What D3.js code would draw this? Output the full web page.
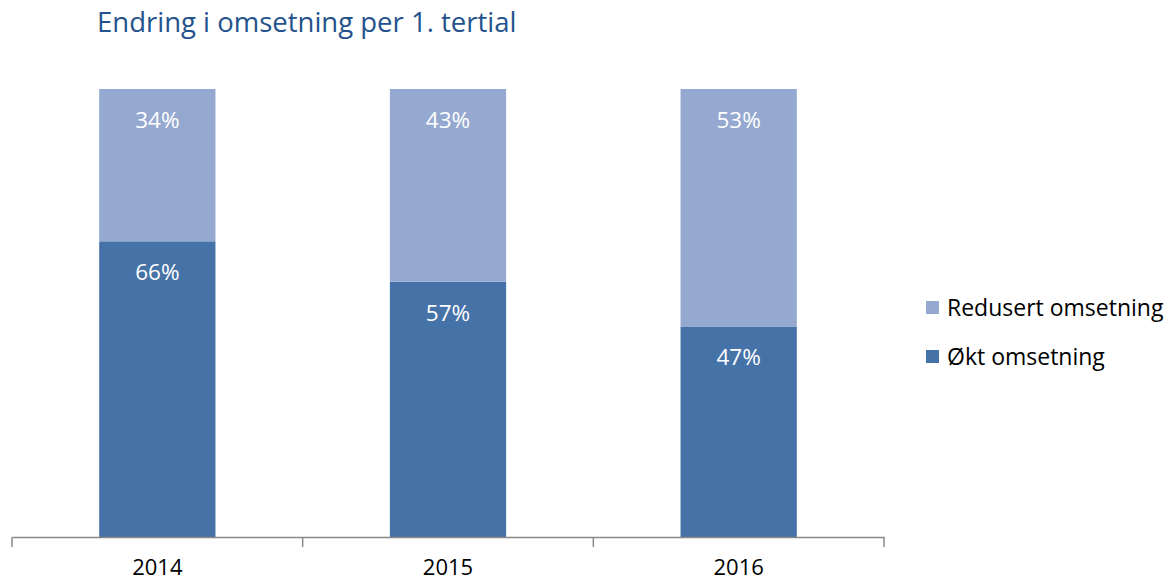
<!DOCTYPE html>
<html>
<head>
<meta charset="utf-8">
<script src="https://cdn.jsdelivr.net/npm/d3@7"></script>
<style>
  body { margin: 0; background: #fff; }
  text { font-family: "Open Sans", "Noto Sans", sans-serif; }
</style>
</head>
<body>
<div id="chart"></div>
<script>
// Data
const years = ["2014", "2015", "2016"];
const okt = [0.66, 0.57, 0.47];        // Økt omsetning
const redusert = [0.34, 0.43, 0.53];   // Redusert omsetning
const seriesNames = ["Redusert omsetning", "Økt omsetning"];

// Setup
const svgWidth = 1173, svgHeight = 583;
const colors = { "Økt omsetning": "#4572A7", "Redusert omsetning": "#95A9D0" };

const svg = d3.select("#chart")
  .append("svg")
  .attr("width", svgWidth)
  .attr("height", svgHeight);

// Scales
const xScale = d3.scaleBand().domain(years).range([12, 884]).padding(0);
const yScale = d3.scaleLinear().domain([0, 1]).range([537, 89]);
const barW = xScale.bandwidth() * 0.4;

const rows = years.map((y, i) => ({ year: y, okt: okt[i], red: redusert[i] }));

// Bars: Økt at bottom
svg.selectAll(".okt")
  .data(rows)
  .join("rect")
  .attr("x", d => xScale(d.year) + (xScale.bandwidth() - barW) / 2)
  .attr("width", barW)
  .attr("y", d => yScale(d.okt))
  .attr("height", d => yScale(0) - yScale(d.okt))
  .attr("fill", colors["Økt omsetning"]);

svg.selectAll(".red")
  .data(rows)
  .join("rect")
  .attr("x", d => xScale(d.year) + (xScale.bandwidth() - barW) / 2)
  .attr("width", barW)
  .attr("y", d => yScale(d.okt + d.red))
  .attr("height", d => yScale(d.okt) - yScale(d.okt + d.red))
  .attr("fill", colors["Redusert omsetning"]);

// Value labels
const fmt = d3.format(".0%");
svg.selectAll(".lab-red")
  .data(rows)
  .join("text")
  .attr("x", d => xScale(d.year) + xScale.bandwidth() / 2)
  .attr("y", d => yScale(d.okt + d.red) + 39)
  .attr("text-anchor", "middle")
  .attr("fill", "#fff")
  .attr("font-size", 22.5)
  .text(d => fmt(d.red));

svg.selectAll(".lab-okt")
  .data(rows)
  .join("text")
  .attr("x", d => xScale(d.year) + xScale.bandwidth() / 2)
  .attr("y", d => yScale(d.okt) + 39)
  .attr("text-anchor", "middle")
  .attr("fill", "#fff")
  .attr("font-size", 22.5)
  .text(d => fmt(d.okt));

// X axis
const xAxis = svg.append("g")
  .attr("transform", `translate(0, ${yScale(0)})`)
  .call(d3.axisBottom(xScale).tickSize(0).tickSizeOuter(0));
xAxis.select(".domain").attr("stroke", "#898989").attr("stroke-width", 1.5);
xAxis.selectAll(".tick text")
  .attr("dy", 0)
  .attr("y", 38)
  .attr("font-size", 22)
  .attr("font-family", "Open Sans")
  .attr("fill", "#000");

// Category separators
const bounds = years.map(y => xScale(y)).concat([xScale.range()[1]]);
xAxis.selectAll(".sep")
  .data(bounds)
  .join("line")
  .attr("x1", d => d).attr("x2", d => d)
  .attr("y1", 0).attr("y2", 10)
  .attr("stroke", "#898989")
  .attr("stroke-width", 1.5);

// Legend
const legend = svg.append("g").attr("transform", "translate(926, 301)");
seriesNames.forEach((name, i) => {
  const g = legend.append("g").attr("transform", `translate(0, ${i * 49})`);
  g.append("rect").attr("width", 13).attr("height", 13).attr("fill", colors[name]);
  g.append("text").attr("x", 21).attr("y", 15)
    .attr("font-size", 23).attr("fill", "#000").text(name);
});

// Title
svg.append("text")
  .attr("x", 97)
  .attr("y", 32)
  .attr("font-size", 27.5)
  .attr("fill", "#24528C")
  .text("Endring i omsetning per 1. tertial");
</script>
</body>
</html>
